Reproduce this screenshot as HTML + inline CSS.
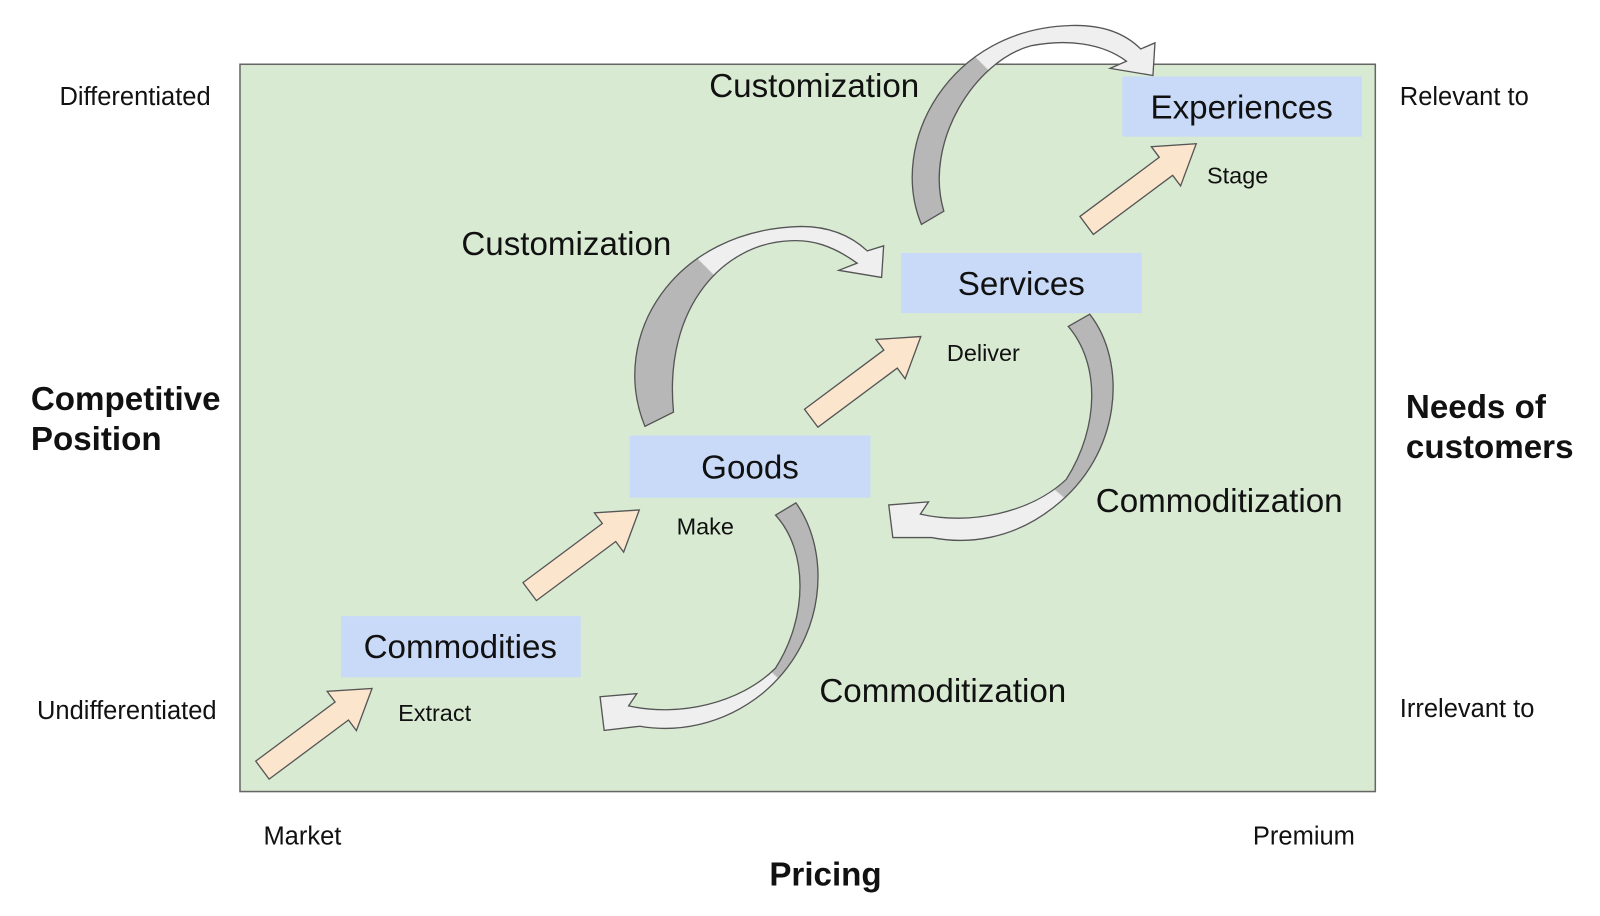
<!DOCTYPE html>
<html><head><meta charset="utf-8"><style>
html,body{margin:0;padding:0;background:#fff;}
svg{display:block;}
text{font-family:"Liberation Sans",Arial,sans-serif;fill:#111;}
</style></head><body>
<svg width="1600" height="916" viewBox="0 0 1568 898" xmlns="http://www.w3.org/2000/svg">
<defs>
<linearGradient id="g1" gradientUnits="userSpaceOnUse" x1="670" y1="280" x2="710" y2="240">
<stop offset="0.49" stop-color="#b7b7b7"/><stop offset="0.51" stop-color="#efefef"/></linearGradient>
<linearGradient id="g2" gradientUnits="userSpaceOnUse" x1="940" y1="80" x2="980" y2="40">
<stop offset="0.49" stop-color="#b7b7b7"/><stop offset="0.51" stop-color="#efefef"/></linearGradient>
<linearGradient id="g3" gradientUnits="userSpaceOnUse" x1="1070" y1="455" x2="1015" y2="520">
<stop offset="0.49" stop-color="#b7b7b7"/><stop offset="0.51" stop-color="#efefef"/></linearGradient>
<linearGradient id="g4" gradientUnits="userSpaceOnUse" x1="790" y1="630" x2="730" y2="695">
<stop offset="0.49" stop-color="#b7b7b7"/><stop offset="0.51" stop-color="#efefef"/></linearGradient>
<polygon id="ba" points="0,-11 97,-11 97,-24 134,0 97,24 97,11 0,11" fill="#fce5cd" stroke="#555" stroke-width="1.3" stroke-linejoin="miter"/>
</defs>
<rect x="235" y="63" width="1113" height="713" fill="#d9ead3" stroke="#666" stroke-width="1.5"/>
<rect x="1100" y="75" width="235" height="59" fill="#c9daf8"/>
<rect x="883" y="248" width="236" height="59" fill="#c9daf8"/>
<rect x="617" y="427" width="236" height="61" fill="#c9daf8"/>
<rect x="334" y="604" width="235" height="60" fill="#c9daf8"/>

<g stroke="#555" stroke-width="1.3" stroke-linejoin="miter">
<path d="M632,418 C596,330 660,225 785,222 C815,222 835,232 850,246 L866,241 L864,272 L822,265 L840,258 C815,240 795,235 775,236 C710,238 650,300 660,404 Z" fill="url(#g1)"/>
<path d="M903,220 C870,140 930,28 1050,25 C1085,24 1105,35 1118,48 L1132,42 L1130,74 L1088,67 L1104,60 C1080,42 1045,38 1010,45 C955,60 905,140 925,207 Z" fill="url(#g2)"/>
<path d="M1068,308 C1105,355 1100,445 1033,497 C993,529 948,534 913,527 L875,527 L871,495 L910,492 L902,504 C950,515 1010,503 1045,470 C1078,418 1078,356 1047,320 Z" fill="url(#g3)"/>
<path d="M780,493 C815,542 810,628 747,680 C707,712 662,718 627,712 L592,716 L588,683 L624,680 L616,692 C664,703 725,690 760,655 C792,605 792,540 760,505 Z" fill="url(#g4)"/>
</g>

<use href="#ba" transform="translate(257,755) rotate(-36.7)"/>
<use href="#ba" transform="translate(519,580) rotate(-36.7)"/>
<use href="#ba" transform="translate(795,410) rotate(-36.7)"/>
<use href="#ba" transform="translate(1065,221) rotate(-36.7)"/>

<g font-size="25">
<text x="58" y="103">Differentiated</text>
<text x="36" y="705">Undifferentiated</text>
<text x="1372" y="103">Relevant to</text>
<text x="1372" y="703">Irrelevant to</text>
<text x="258" y="828">Market</text>
<text x="1228" y="828">Premium</text>
</g>
<g font-size="23">
<text x="1183" y="180">Stage</text>
<text x="928" y="354">Deliver</text>
<text x="663" y="524">Make</text>
<text x="390" y="707">Extract</text>
</g>
<g font-size="32.5" font-weight="bold">
<text x="809" y="868" text-anchor="middle">Pricing</text>
<text x="30" y="402">Competitive</text>
<text x="30" y="441">Position</text>
<text x="1378" y="410">Needs of</text>
<text x="1378" y="449">customers</text>
</g>
<g font-size="32.5">
<text x="695" y="95">Customization</text>
<text x="452" y="250">Customization</text>
<text x="1074" y="502">Commoditization</text>
<text x="803" y="688">Commoditization</text>
<text x="1217" y="116" text-anchor="middle">Experiences</text>
<text x="1001" y="289" text-anchor="middle">Services</text>
<text x="735" y="469" text-anchor="middle">Goods</text>
<text x="451" y="645" text-anchor="middle">Commodities</text>
</g>
</svg>
</body></html>
